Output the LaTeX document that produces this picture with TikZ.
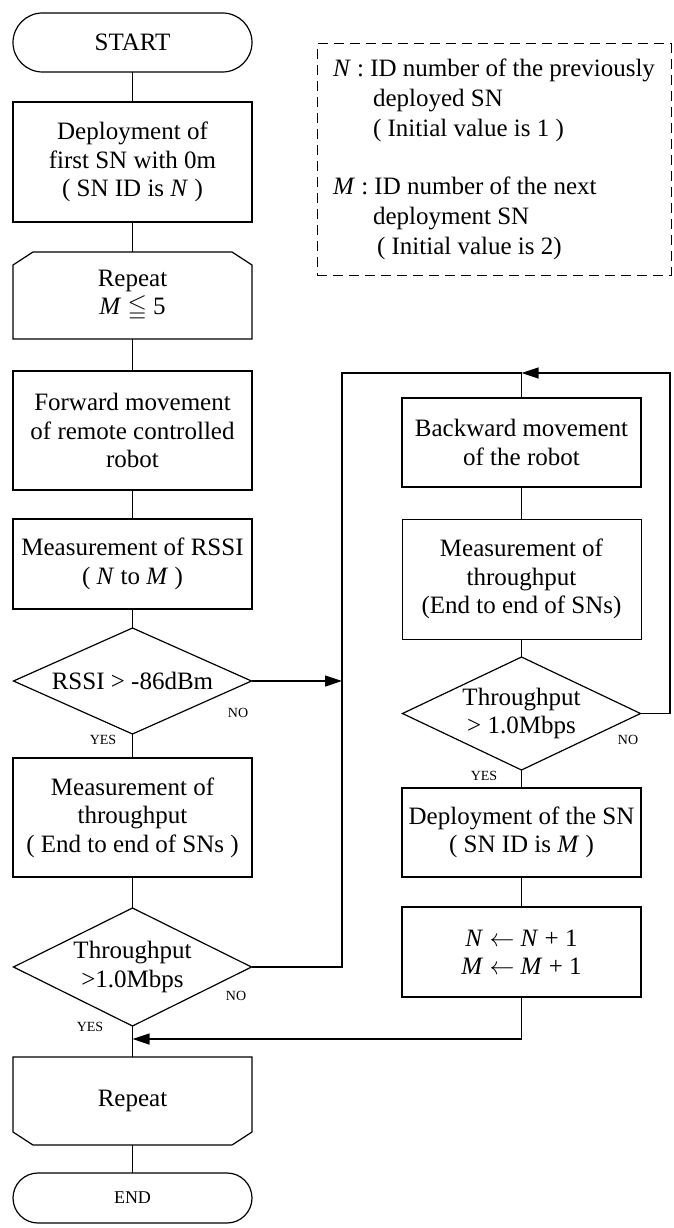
\documentclass[tikz,border=0pt]{standalone}
\usepackage{fontspec}
\setmainfont{Liberation Serif}
\usepackage{amssymb}
\usetikzlibrary{positioning}
\usetikzlibrary{shapes.geometric}
\usetikzlibrary{arrows.meta}

\begin{document}
\begin{tikzpicture}[x=1pt,y=-1pt,line width=1.2pt,
		>={Triangle[length=17pt,width=11pt]},
		font=\fontsize{25}{28.5}\selectfont,
		every node/.style={outer sep=0pt},
		box/.style={rectangle,draw,minimum width=239pt,align=center,inner sep=0pt},
		term/.style={rectangle,draw,minimum width=239pt,inner sep=0pt},
		loopbox/.style={rectangle,minimum width=239pt,align=center,inner sep=0pt},
		decision/.style={diamond,draw,aspect=2.2,inner sep=-6pt,minimum width=238pt,align=center},
		tag/.style={font=\fontsize{14}{16}\selectfont,inner sep=0pt}]
		
		\useasboundingbox (0,0) rectangle (674,1228);
		
		% main column
		\node[term,minimum height=59pt,rounded corners=29.5pt] (start) at (132.5,42.5) {START};
		\node[box,minimum height=120pt] (dep1) [below=30pt of start] {Deployment of\\first SN with 0m\\( SN ID is \textit{N} )};
		\node[loopbox,minimum height=87pt] (rep1) [below=30pt of dep1] {Repeat\\\textit{M} $\leqq$ 5};
		\node[box,minimum height=119pt] (fwd) [below=32pt of rep1] {Forward movement\\of remote controlled\\robot};
		\node[box,minimum height=90pt] (rssim) [below=29pt of fwd] {Measurement of RSSI\\( \textit{N} to \textit{M} )};
		\node[decision,minimum height=106pt] (rssid) [below=19pt of rssim] {RSSI > -86dBm};
		\node[box,minimum height=119pt] (thrm) [below=24pt of rssid] {Measurement of\\throughput\\( End to end of SNs )};
		\node[decision,minimum height=118pt] (thrd) [below=31pt of thrm] {Throughput\\>1.0Mbps};
		\node[loopbox,minimum height=88pt] (rep2) [below=31pt of thrd] {Repeat};
		\node[term,minimum height=50pt,rounded corners=25pt,font=\fontsize{18}{20}\selectfont] (fin) [below=28pt of rep2] {END};
		
		% loop limits
		\draw (rep1.south west) -- ([yshift=-13pt]rep1.north west) -- ([xshift=20pt]rep1.north west)
		-- ([xshift=-20pt]rep1.north east) -- ([yshift=-13pt]rep1.north east) -- (rep1.south east) -- cycle;
		\draw (rep2.north west) -- ([yshift=13pt]rep2.south west) -- ([xshift=20pt]rep2.south west)
		-- ([xshift=-20pt]rep2.south east) -- ([yshift=13pt]rep2.south east) -- (rep2.north east) -- cycle;
		
		% backward column
		\node[box,minimum height=89pt] (back) at (521.5,442.5) {Backward movement\\of the robot};
		\node[box,minimum height=120pt,line width=0.6pt] (meas) [below=32pt of back] {Measurement of\\throughput\\(End to end of SNs)};
		\node[decision,minimum height=113pt] (dec) [below=18pt of meas] {Throughput\\> 1.0Mbps};
		\node[box,minimum height=89pt] (dep2) [below=18pt of dec] {Deployment of the SN\\( SN ID is \textit{M} )};
		\node[box,minimum height=90pt] (upd) [below=30pt of dep2] {\textit{N} $\leftarrow$ \textit{N} + 1\\\textit{M} $\leftarrow$ \textit{M} + 1};
		
		% legend
		\node[draw,dash pattern=on 10pt off 6pt,line width=1pt,minimum width=354pt,minimum height=231pt,
		inner sep=10pt,align=left,font=\fontsize{25}{30}\selectfont] (legend) at (494,159.5)
		{\textit{N} : ID number of the previously\\
			\hspace*{40pt}deployed SN\\
			\hspace*{40pt}( Initial value is 1 )\\[28pt]
			\textit{M} : ID number of the next\\
			\hspace*{40pt}deployment SN\\
			\hspace*{44pt}( Initial value is 2)};
		
		\coordinate (lt) at (342,373);
		\coordinate (lj) at (rssid.east -| lt);
		\coordinate (top) at (521.5,373);
		\coordinate (rt) at (670,373);
		\coordinate (join) at (132.5,1039);
		
		\foreach \a/\b in {start/dep1,dep1/rep1,rep1/fwd,fwd/rssim,rssim/rssid,rssid/thrm,thrm/thrd,thrd/rep2,rep2/fin,back/meas,meas/dec,dec/dep2,dep2/upd}
		\draw (\a) -- (\b);
		
		\draw[->] (rssid.east) -- (lj);
		\draw (thrd.east) -| (lt) -- (top);
		\draw (back) -- (top);
		\draw[->] (dec.east) -| (rt) -- (top);
		\draw[->] (upd.south) |- (join);
		
		\node[tag] (y1) at (103,740) {YES};
		\node[tag] (n1) at (238,713) {NO};
		\node[tag] (y2) at (90,1027) {YES};
		\node[tag] (n2) at (236,996) {NO};
		\node[tag] (y3) at (484,776) {YES};
		\node[tag] (n3) at (628,740) {NO};
\end{tikzpicture}
\end{document}
